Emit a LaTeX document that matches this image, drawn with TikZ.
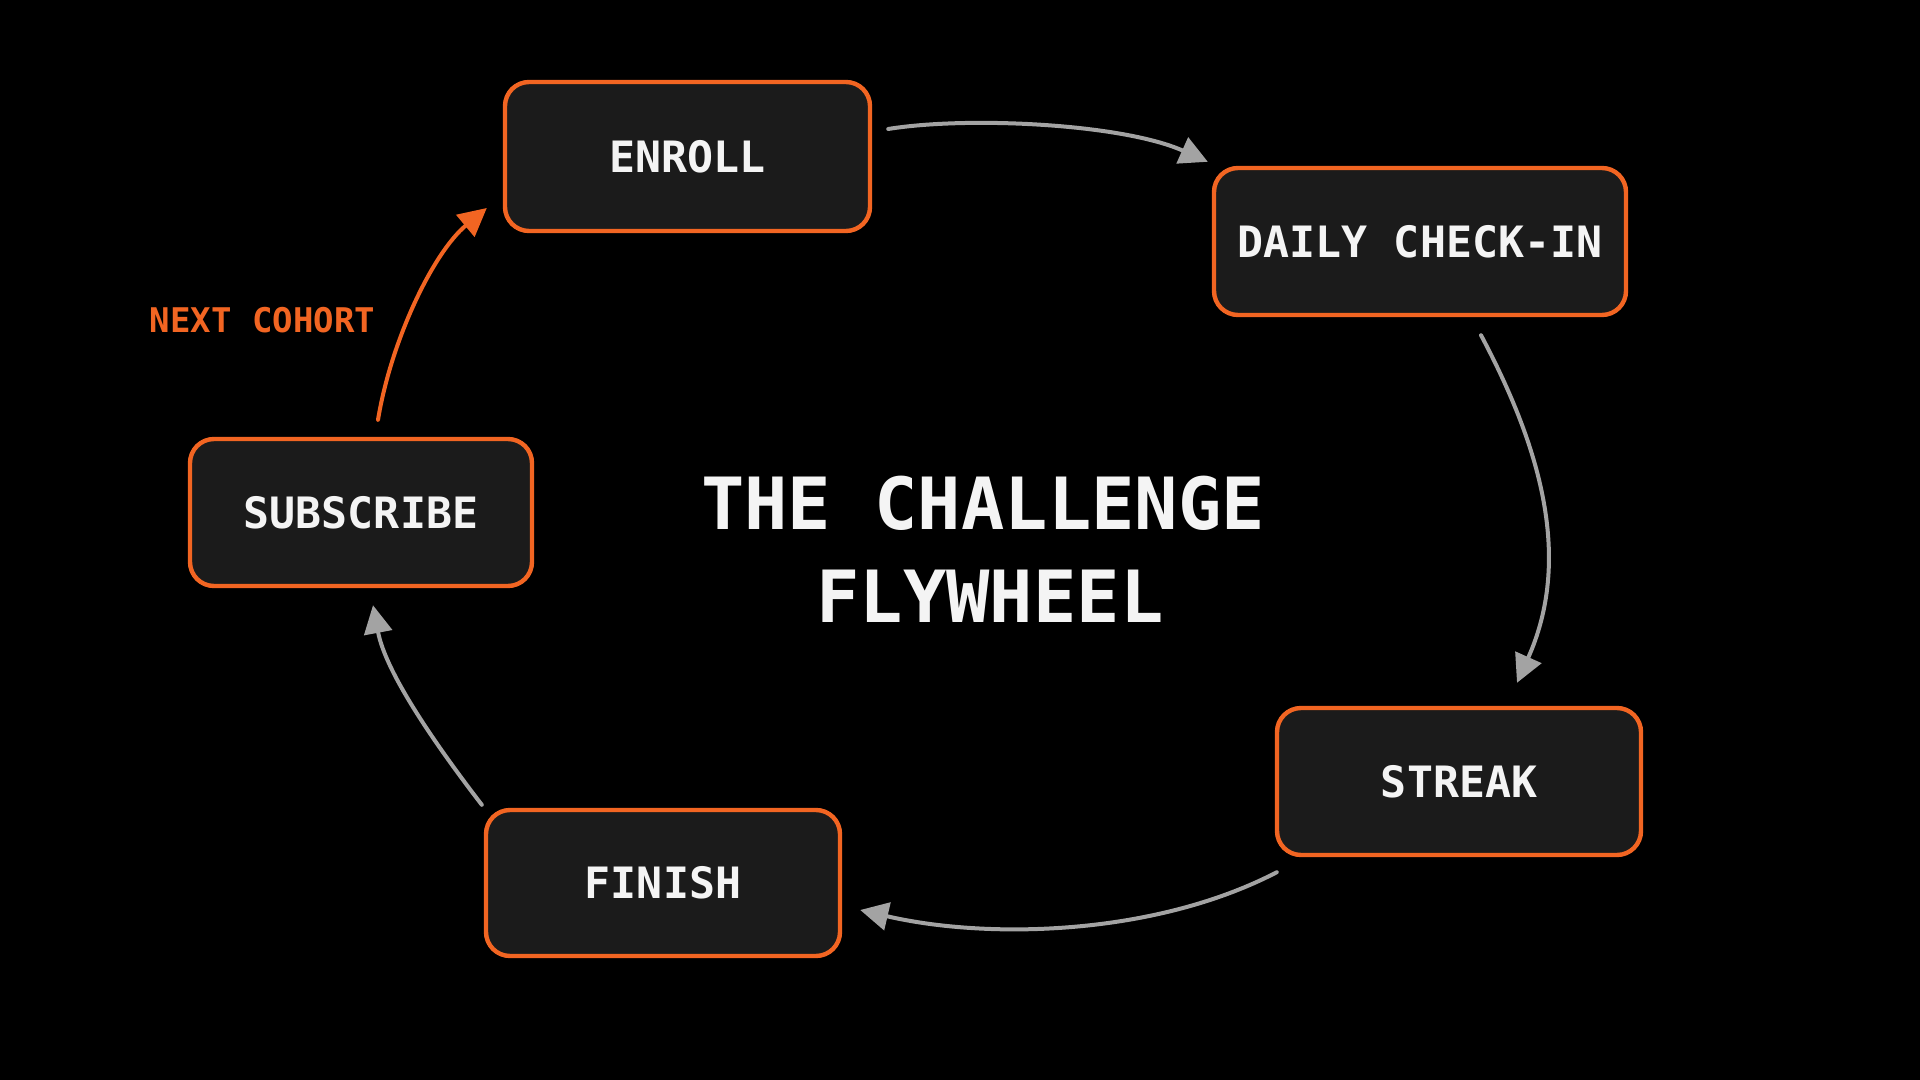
\documentclass[tikz,border=0pt]{standalone}
\usepackage{fontspec}
\newfontfamily\boxfont{DejaVu Sans Mono}
\newfontfamily\titlefont{DejaVu Sans Mono}
\usetikzlibrary{arrows.meta,calc}
\definecolor{bg}{HTML}{000000}
\definecolor{accent}{HTML}{F26522}
\definecolor{boxfill}{HTML}{1B1B1B}
\definecolor{flow}{HTML}{A3A3A3}
\definecolor{label}{HTML}{F4F4F4}
\begin{document}
\begin{tikzpicture}[x=0.5pt,y=-0.5pt,
  stage/.style={draw=accent, line width=2.2pt, fill=boxfill, rounded corners=12pt,
    inner sep=0pt, text=label, font={\boxfont\bfseries\fontsize{21.6pt}{26pt}\selectfont}},
  flowarrow/.style={draw=flow, line width=2pt, line cap=round, -{Triangle[length=14pt,width=14pt]}},
  loopback/.style={draw=accent, line width=2pt, line cap=round, -{Triangle[length=14pt,width=14pt]}},
  sidelabel/.style={text=accent, inner sep=0pt, font={\boxfont\bfseries\fontsize{17pt}{20pt}\selectfont}},
  headline/.style={anchor=base, text=label, inner sep=0pt, font={\titlefont\bfseries\fontsize{36pt}{40pt}\selectfont}}]
\fill[bg] (0,0) rectangle (1920,1080);
\useasboundingbox (0,0) rectangle (1920,1080);

\node[stage, minimum width=182.5pt, minimum height=74.5pt] (enroll) at (687.5,156.5) {ENROLL};
\node[stage, minimum width=206pt, minimum height=73.5pt] (daily) at (1420,241.5) {DAILY CHECK-IN};
\node[stage, minimum width=182pt, minimum height=73.5pt] (streak) at (1459,781.5) {STREAK};
\node[stage, minimum width=177pt, minimum height=73pt] (finish) at (663,883) {FINISH};
\node[stage, minimum width=171pt, minimum height=73.5pt] (subscribe) at (361,512.5) {SUBSCRIBE};

\node[headline] (title1) at (983,529) {THE CHALLENGE};
\node[headline] (title2) at (990,622) {FLYWHEEL};

\node[sidelabel] (nextlabel) at (262.5,320) {NEXT COHORT};

\draw[flowarrow] ($(enroll.east)+(16,-27.5)$) .. controls +(80,-13) and +(-85,-38) .. ($(daily.north west)+(-4,-4)$);
\draw[flowarrow] ($(daily.south)+(61,18)$) .. controls +(61,115) and +(55,-123) .. ($(streak.north)+(58,-23)$);
\draw[flowarrow] ($(streak.south west)+(2,15)$) .. controls +(-121,63) and +(129,30) .. ($(finish.east)+(18,27)$);
\draw[flowarrow] ($(finish.north west)+(-2,-3)$) .. controls +(-43,-56) and +(13,69) .. ($(subscribe.south)+(12,17)$);
\draw[loopback] ($(subscribe.north)+(17,-17)$) .. controls +(13,-79) and +(-54,45) .. ($(enroll.west)+(-16,51.5)$);
\end{tikzpicture}
\end{document}
